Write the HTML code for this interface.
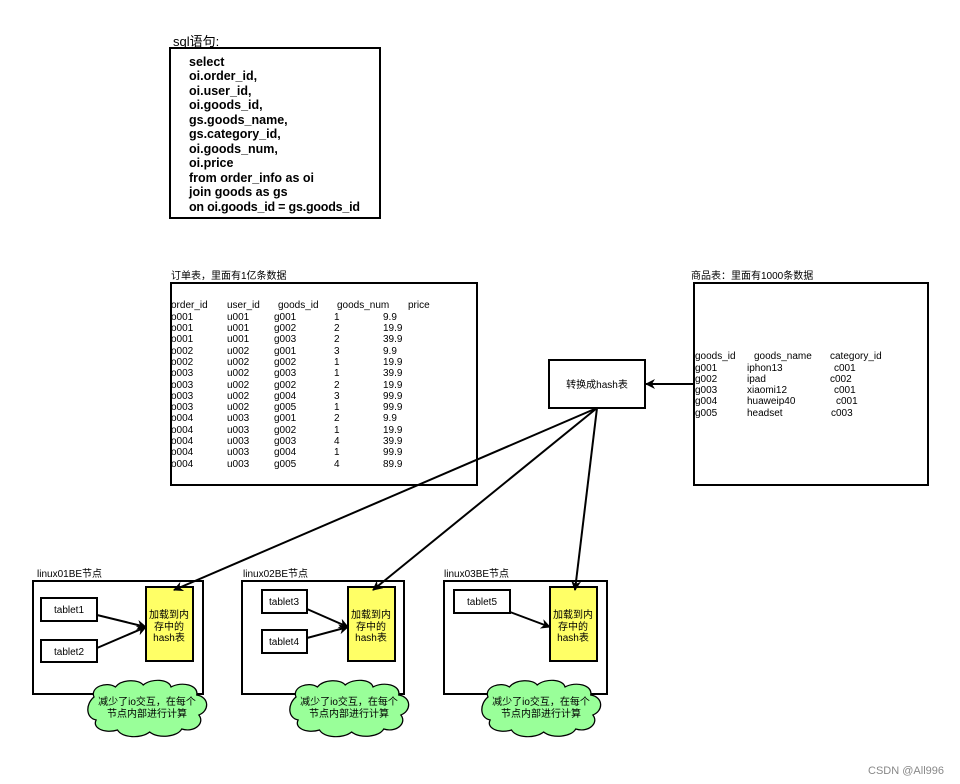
<!DOCTYPE html>
<html><head><meta charset="utf-8"><style>
html,body{margin:0;padding:0;background:#fff}
svg{display:block;font-family:"Liberation Sans","Noto Sans CJK SC",sans-serif}
</style></head><body>
<svg width="960" height="784" viewBox="0 0 960 784" xmlns="http://www.w3.org/2000/svg">
<defs>
<marker id="ah" markerWidth="10" markerHeight="10" refX="9" refY="5" orient="auto" markerUnits="userSpaceOnUse">
<path d="M0,0 L10,5 L0,10 L3,5 Z" fill="#000"/></marker>
</defs>
<g fill="none" stroke="#000" stroke-width="2">
<rect x="170" y="48" width="210" height="170"/>
<rect x="171" y="283" width="306" height="202"/>
<rect x="694" y="283" width="234" height="202"/>
<rect x="549" y="360" width="96" height="48"/>
<rect x="33" y="581" width="170" height="113"/>
<rect x="242" y="581" width="162" height="113"/>
<rect x="444" y="581" width="163" height="113"/>
<rect x="41" y="598" width="56" height="23"/>
<rect x="41" y="640" width="56" height="22"/>
<rect x="262" y="590" width="45" height="23"/>
<rect x="262" y="630" width="45" height="23"/>
<rect x="454" y="590" width="56" height="23"/>
</g>
<g fill="#ffff66" stroke="#000" stroke-width="2">
<rect x="146" y="587" width="47" height="74"/>
<rect x="348" y="587" width="47" height="74"/>
<rect x="550" y="587" width="47" height="74"/>
</g>
<g stroke="#000" stroke-width="2" fill="none" marker-end="url(#ah)">
<line x1="694" y1="384" x2="646" y2="384"/>
<line x1="597" y1="408" x2="174" y2="590"/>
<line x1="597" y1="408" x2="373" y2="590"/>
<line x1="597" y1="408" x2="575" y2="590"/>
<line x1="97" y1="615" x2="146" y2="627"/>
<line x1="97" y1="648" x2="146" y2="627"/>
<line x1="307" y1="609" x2="348" y2="627"/>
<line x1="307" y1="638" x2="348" y2="627"/>
<line x1="510" y1="612" x2="550" y2="627"/>
</g>
<g fill="#99ff99" stroke="#000" stroke-width="1.2">
<path transform="translate(94,697) scale(1.07,1)" d="M0,0 c-4,-10 12,-16 20,-10 c6,-8 22,-8 26,-2 c8,-7 24,-6 26,2 c10,-6 26,-2 24,8 c12,2 12,16 2,20 c6,8 -4,18 -16,14 c-4,8 -22,10 -30,3 c-8,7 -26,6 -30,-2 c-12,4 -24,-2 -20,-10 c-10,-2 -10,-16 -2,-23 z"/>
<path transform="translate(296,697) scale(1.07,1)" d="M0,0 c-4,-10 12,-16 20,-10 c6,-8 22,-8 26,-2 c8,-7 24,-6 26,2 c10,-6 26,-2 24,8 c12,2 12,16 2,20 c6,8 -4,18 -16,14 c-4,8 -22,10 -30,3 c-8,7 -26,6 -30,-2 c-12,4 -24,-2 -20,-10 c-10,-2 -10,-16 -2,-23 z"/>
<path transform="translate(488,697) scale(1.07,1)" d="M0,0 c-4,-10 12,-16 20,-10 c6,-8 22,-8 26,-2 c8,-7 24,-6 26,2 c10,-6 26,-2 24,8 c12,2 12,16 2,20 c6,8 -4,18 -16,14 c-4,8 -22,10 -30,3 c-8,7 -26,6 -30,-2 c-12,4 -24,-2 -20,-10 c-10,-2 -10,-16 -2,-23 z"/>
</g>
<text x="173" y="46" font-size="13">sql语句:</text>
<g font-size="12.5" font-weight="bold">
<text x="189" y="66">select</text>
<text x="189" y="80">oi.order_id,</text>
<text x="189" y="95">oi.user_id,</text>
<text x="189" y="109">oi.goods_id,</text>
<text x="189" y="124">gs.goods_name,</text>
<text x="189" y="138">gs.category_id,</text>
<text x="189" y="153">oi.goods_num,</text>
<text x="189" y="167">oi.price</text>
<text x="189" y="182" textLength="125">from order_info as oi</text>
<text x="189" y="196">join goods as gs</text>
<text x="189" y="211" textLength="171">on oi.goods_id = gs.goods_id</text>
</g>
<g font-size="10">
<text x="171" y="279">订单表，里面有1亿条数据</text>
<text x="691" y="279">商品表：里面有1000条数据</text>
<text x="171" y="308">order_id</text><text x="227" y="308">user_id</text><text x="278" y="308">goods_id</text><text x="337" y="308">goods_num</text><text x="408" y="308">price</text>
<text x="171" y="320">o001</text><text x="227" y="320">u001</text><text x="274" y="320">g001</text><text x="334" y="320">1</text><text x="383" y="320">9.9</text>
<text x="171" y="331">o001</text><text x="227" y="331">u001</text><text x="274" y="331">g002</text><text x="334" y="331">2</text><text x="383" y="331">19.9</text>
<text x="171" y="342">o001</text><text x="227" y="342">u001</text><text x="274" y="342">g003</text><text x="334" y="342">2</text><text x="383" y="342">39.9</text>
<text x="171" y="354">o002</text><text x="227" y="354">u002</text><text x="274" y="354">g001</text><text x="334" y="354">3</text><text x="383" y="354">9.9</text>
<text x="171" y="365">o002</text><text x="227" y="365">u002</text><text x="274" y="365">g002</text><text x="334" y="365">1</text><text x="383" y="365">19.9</text>
<text x="171" y="376">o003</text><text x="227" y="376">u002</text><text x="274" y="376">g003</text><text x="334" y="376">1</text><text x="383" y="376">39.9</text>
<text x="171" y="388">o003</text><text x="227" y="388">u002</text><text x="274" y="388">g002</text><text x="334" y="388">2</text><text x="383" y="388">19.9</text>
<text x="171" y="399">o003</text><text x="227" y="399">u002</text><text x="274" y="399">g004</text><text x="334" y="399">3</text><text x="383" y="399">99.9</text>
<text x="171" y="410">o003</text><text x="227" y="410">u002</text><text x="274" y="410">g005</text><text x="334" y="410">1</text><text x="383" y="410">99.9</text>
<text x="171" y="421">o004</text><text x="227" y="421">u003</text><text x="274" y="421">g001</text><text x="334" y="421">2</text><text x="383" y="421">9.9</text>
<text x="171" y="433">o004</text><text x="227" y="433">u003</text><text x="274" y="433">g002</text><text x="334" y="433">1</text><text x="383" y="433">19.9</text>
<text x="171" y="444">o004</text><text x="227" y="444">u003</text><text x="274" y="444">g003</text><text x="334" y="444">4</text><text x="383" y="444">39.9</text>
<text x="171" y="455">o004</text><text x="227" y="455">u003</text><text x="274" y="455">g004</text><text x="334" y="455">1</text><text x="383" y="455">99.9</text>
<text x="171" y="467">o004</text><text x="227" y="467">u003</text><text x="274" y="467">g005</text><text x="334" y="467">4</text><text x="383" y="467">89.9</text>
<text x="695" y="359">goods_id</text><text x="754" y="359">goods_name</text><text x="830" y="359">category_id</text>
<text x="695" y="371">g001</text><text x="747" y="371">iphon13</text><text x="834" y="371">c001</text>
<text x="695" y="382">g002</text><text x="747" y="382">ipad</text><text x="830" y="382">c002</text>
<text x="695" y="393">g003</text><text x="747" y="393">xiaomi12</text><text x="834" y="393">c001</text>
<text x="695" y="404">g004</text><text x="747" y="404">huaweip40</text><text x="836" y="404">c001</text>
<text x="695" y="416">g005</text><text x="747" y="416">headset</text><text x="831" y="416">c003</text>
<text x="597" y="388" text-anchor="middle">转换成hash表</text>
<text x="37" y="577">linux01BE节点</text>
<text x="243" y="577">linux02BE节点</text>
<text x="444" y="577">linux03BE节点</text>
<text x="69" y="613" text-anchor="middle">tablet1</text>
<text x="69" y="655" text-anchor="middle">tablet2</text>
<text x="284" y="605" text-anchor="middle">tablet3</text>
<text x="284" y="645" text-anchor="middle">tablet4</text>
<text x="482" y="605" text-anchor="middle">tablet5</text>
<g text-anchor="middle">
<text x="169" y="618">加载到内</text><text x="169" y="630">存中的</text><text x="169" y="641">hash表</text>
<text x="371" y="618">加载到内</text><text x="371" y="630">存中的</text><text x="371" y="641">hash表</text>
<text x="573" y="618">加载到内</text><text x="573" y="630">存中的</text><text x="573" y="641">hash表</text>
<text x="147" y="705">减少了io交互，在每个</text><text x="147" y="717">节点内部进行计算</text>
<text x="349" y="705">减少了io交互，在每个</text><text x="349" y="717">节点内部进行计算</text>
<text x="541" y="705">减少了io交互，在每个</text><text x="541" y="717">节点内部进行计算</text>
</g>
</g>
<text x="944" y="774" font-size="11" fill="#888" text-anchor="end">CSDN @All996</text>
</svg>
</body></html>
